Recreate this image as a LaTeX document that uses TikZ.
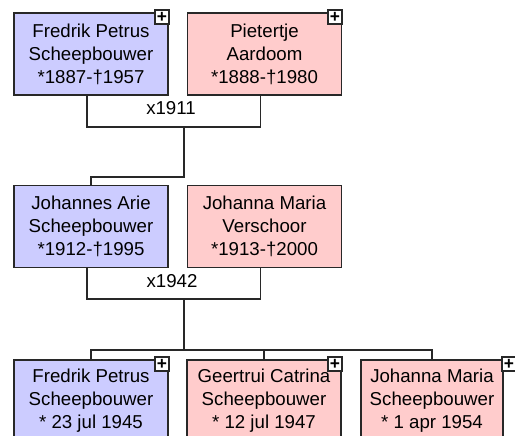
\documentclass[tikz,border=0pt]{standalone}
\usepackage{xcolor}
\usepackage{fontspec}
\setmainfont{Liberation Sans}
\definecolor{manfill}{RGB}{204,204,255}
\definecolor{womanfill}{RGB}{255,204,204}
\definecolor{edgegray}{RGB}{40,40,40}
\tikzset{
	person/.style={draw=edgegray, line width=1.2pt, minimum width=115.5pt, minimum height=61.5pt, inner sep=0pt, align=center, font=\fontsize{14}{17.25}\selectfont},
	man/.style={person, fill=manfill},
	woman/.style={person, fill=womanfill},
	plusbox/.style={draw=edgegray, fill=white, line width=1pt, minimum size=10.5pt, inner sep=0pt, font=\fontsize{13}{13}\selectfont\bfseries},
	wedding/.style={inner sep=0.75pt, font=\fontsize{14}{17}\selectfont},
	link/.style={draw=edgegray, line width=1.2pt}
}
\begin{document}
\begin{tikzpicture}[x=0.75pt,y=0.75pt,yscale=-1,xscale=1]
								\useasboundingbox (0,0) rectangle (515,436);
								\clip (0,0) rectangle (515,436);
								
								%Shape: Rectangle [grandparents]
								\node [man] (fredrik) at (91,54) {Fredrik Petrus\\Scheepbouwer\\*1887-†1957};
								\node [woman] (pietertje) at (264.5,54) {Pietertje\\Aardoom\\*1888-†1980};
								%Shape: Rectangle [parents]
								\node [man] (johannes) at (91,226.5) {Johannes Arie\\Scheepbouwer\\*1912-†1995};
								\node [woman] (johanna) at (264.5,226.5) {Johanna Maria\\Verschoor\\*1913-†2000};
								%Shape: Rectangle [children]
								\node [man] (fredrikjr) at (91,401) {Fredrik Petrus\\Scheepbouwer\\* 23 jul 1945};
								\node [woman] (geertrui) at (264,401) {Geertrui Catrina\\Scheepbouwer\\* 12 jul 1947};
								\node [woman, minimum width=106.5pt] (johannamaria) at (432,401) {Johanna Maria\\Scheepbouwer\\* 1 apr 1954};
								
								%Shape: Square [expand]
								\node [plusbox] (fredrikplus) at (162,17) {+};
								\node [plusbox] (pietertjeplus) at (335,17) {+};
								\node [plusbox] (fredrikjrplus) at (162,364) {+};
								\node [plusbox] (geertruiplus) at (335,364) {+};
								\node [plusbox] (johannamariaplus) at (509,364) {+};
								
								%Straight Lines [marriage 1911]
								\coordinate (mar1) at (184,127);
								\coordinate (kid1) at (184,177);
								\draw [link] ([xshift=-3pt]fredrik.south) |- (mar1) -| ([xshift=-3pt]pietertje.south);
								\draw [link] (mar1) -- (kid1) -| (johannes.north);
								%Straight Lines [marriage 1942]
								\coordinate (mar2) at (184,299);
								\coordinate (kid2) at (184,350);
								\draw [link] ([xshift=-3pt]johannes.south) |- (mar2) -| ([xshift=-3pt]johanna.south);
								\draw [link] (mar2) -- (kid2);
								\draw [link] (kid2) -| (fredrikjr.north);
								\draw [link] (kid2) -| (geertrui.north);
								\draw [link] (kid2) -| (johannamaria.north);
								
								% Text Node
								\node [wedding] (wed1) at (171,108) {x1911};
								% Text Node
								\node [wedding] (wed2) at (172,281) {x1942};
								
\end{tikzpicture}
\end{document}
